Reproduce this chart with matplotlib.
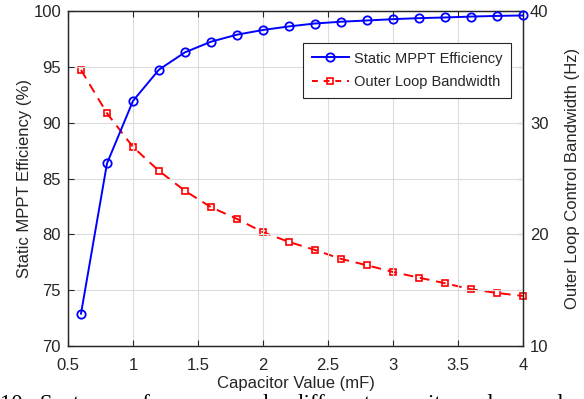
import matplotlib
matplotlib.use("Agg")
import matplotlib.pyplot as plt
from matplotlib.lines import Line2D

plt.rcParams['font.family'] = ['Liberation Sans', 'DejaVu Sans']

capacitance = [0.6, 0.8, 1.0, 1.2, 1.4, 1.6, 1.8, 2.0, 2.2, 2.4, 2.6, 2.8, 3.0, 3.2, 3.4, 3.6, 3.8, 4.0]
efficiency = [72.9, 86.35, 91.95, 94.75, 96.3, 97.25, 97.88, 98.3, 98.62, 98.88, 99.04, 99.15, 99.27, 99.36, 99.42, 99.5, 99.56, 99.6]
bandwidth = [34.72, 30.84, 27.82, 25.68, 23.89, 22.43, 21.38, 20.19, 19.32, 18.6, 17.8, 17.23, 16.63, 16.12, 15.62, 15.08, 14.75, 14.48]

x_ticks = [0.5, 1, 1.5, 2, 2.5, 3, 3.5, 4]
left_ticks = [70, 75, 80, 85, 90, 95, 100]
right_ticks = [10, 15, 20, 25, 30, 35, 40]
right_labels = ['10', '', '20', '', '30', '', '40']

axc = (0.15, 0.15, 0.15)
fs = 12
fig = plt.figure(figsize=(5.84, 3.99), dpi=100)
ax = fig.add_axes([68/584, 1-346/399, (523-68)/584, (346-11)/399])
ax2 = ax.twinx()

ax.plot(capacitance, efficiency, '-o', color='#0000ff', lw=1.4, ms=6,
        mfc='none', mew=1.3, zorder=3, clip_on=False)
ax2.plot(capacitance, bandwidth, '--s', color='#ff0000', lw=1.4, ms=4.8,
         mfc='none', mew=1.2, dashes=(5, 3.5), clip_on=False)

ax.set_xlim(0.5, 4)
ax.set_ylim(70, 100)
ax2.set_ylim(10, 40)
ax.set_xticks(x_ticks)
ax.set_xticklabels(['0.5', '1', '1.5', '2', '2.5', '3', '3.5', '4'])
ax.set_yticks(left_ticks)
ax2.set_yticks(right_ticks)
ax2.set_yticklabels(right_labels)

ax.grid(True, color='#dcdcdc', lw=0.8)
ax.set_axisbelow(True)
for a in (ax, ax2):
    for s in a.spines.values():
        s.set_color(axc)
        s.set_linewidth(0.9)
ax.tick_params(direction='in', length=4, width=0.8, color=axc, labelcolor=axc,
               labelsize=fs, top=True, right=False)
ax2.tick_params(direction='in', length=4, width=0.8, color=axc, labelcolor=axc,
                labelsize=fs, pad=5)
ax.tick_params(axis='x', pad=9)
ax.tick_params(axis='y', pad=5)

ax.set_xlabel('Capacitor Value (mF)', fontsize=fs, color=axc, labelpad=2)
ax.set_ylabel('Static MPPT Efficiency (%)', fontsize=fs, color=axc, labelpad=1)
ax2.set_ylabel('Outer Loop Control Bandwidth (Hz)', fontsize=fs, color=axc, labelpad=12)

ax.set_zorder(ax2.get_zorder() + 1)
ax.patch.set_visible(False)

handles = [
    Line2D([], [], color='#0000ff', lw=1.4, marker='o', ms=6, mfc='none', mew=1.3),
    Line2D([], [], color='#ff0000', lw=1.4, ls='--', dashes=(3, 3), marker='s', ms=4.8, mfc='none', mew=1.2),
]
leg = ax.legend(handles, ['Static MPPT Efficiency', 'Outer Loop Bandwidth'],
                loc='upper left', bbox_to_anchor=(0.516, 0.905), fontsize=10.5,
                frameon=True, fancybox=False, edgecolor=axc, framealpha=1,
                handlelength=2.6, handletextpad=0.3, borderpad=0.6, labelspacing=0.65,
                borderaxespad=0)
leg.get_frame().set_linewidth(0.8)
for t in leg.get_texts():
    t.set_color(axc)

fig.text(0.0, 1 - 394/399, '10.  System performance under different capacitor values and',
         family='Liberation Serif', fontsize=16.5, color='black', ha='left', va='top')

fig.savefig('out.png', dpi=100)
